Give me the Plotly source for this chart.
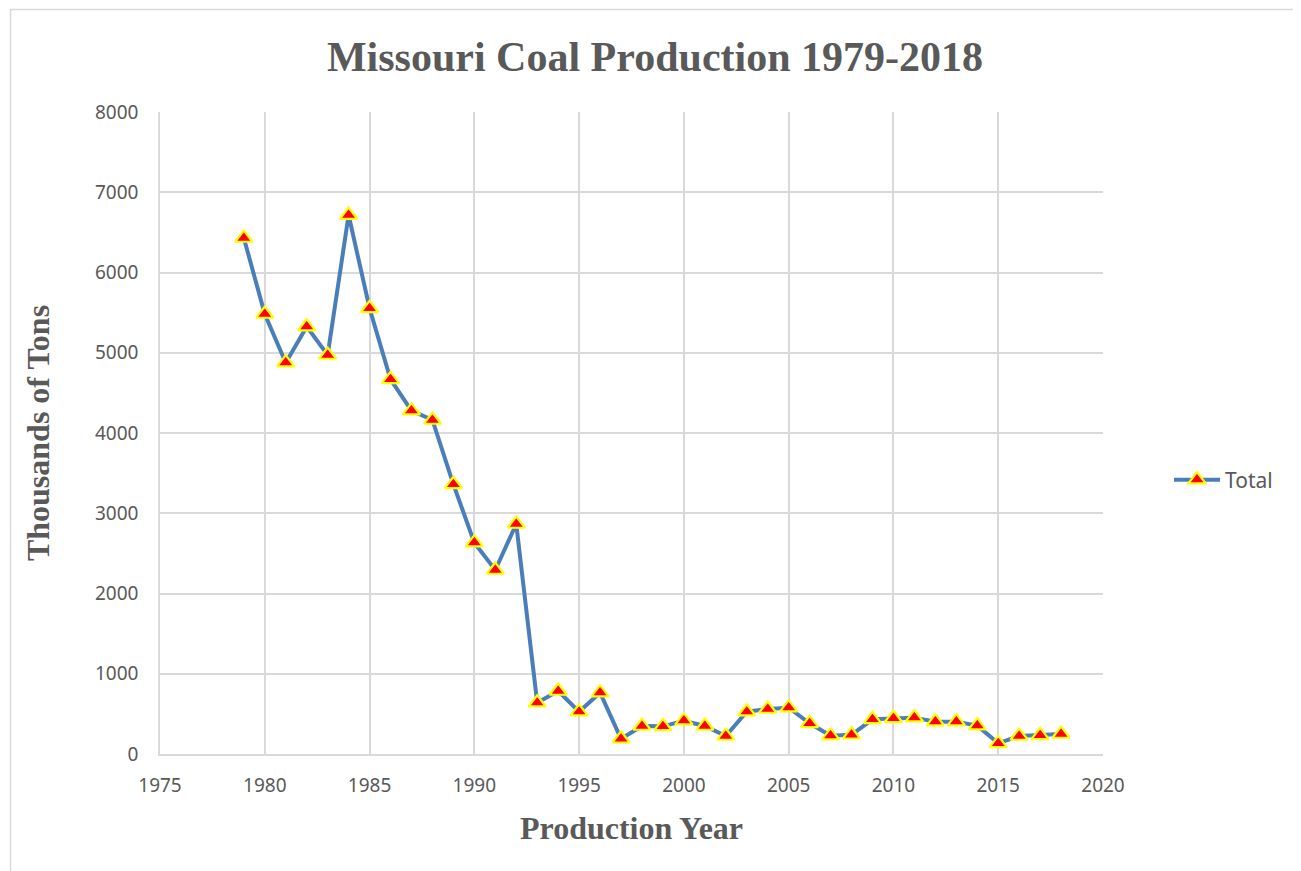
import plotly.graph_objects as go

years = list(range(1979, 2019))
total = [6430, 5483, 4876, 5325, 4972, 6716, 5554, 4669, 4278, 4162,
         3361, 2633, 2293, 2866, 639, 785, 527, 764, 190, 349,
         345, 415, 349, 224, 527, 561, 577, 382, 228, 240,
         432, 445, 453, 403, 403, 353, 133, 224, 233, 249]

x_ticks = [1975, 1980, 1985, 1990, 1995, 2000, 2005, 2010, 2015, 2020]
y_ticks = [0, 1000, 2000, 3000, 4000, 5000, 6000, 7000, 8000]

OFF = 8  # page body margin
W, H = 1301 - OFF, 871 - OFF
L, T = 160 - OFF, 112 - OFF
pw, ph = 943, 642
R, B = W - L - pw, H - T - ph

def px_x(p):  # reference pixel x -> paper x
    return (p - 160) / pw

def px_y(p):  # reference pixel y -> paper y
    return (754 - p) / ph

fig = go.Figure()
fig.add_trace(go.Scatter(
    x=years, y=total, name="Total", mode="lines+markers",
    line=dict(color="#4A7EBB", width=4),
    marker=dict(symbol="triangle-up", size=15, color="#FF0000",
                line=dict(color="#FFFF00", width=2.2)),
))

serif = "Times New Roman, Liberation Serif, serif"
sans = "Noto Sans, Liberation Sans, sans-serif"
tickfont = dict(family=sans, size=19, color="#595959")
fig.update_layout(
    width=W, height=H,
    margin=dict(l=L, r=R, t=T, b=B),
    paper_bgcolor="white", plot_bgcolor="white",
    title=dict(text="<b>Missouri Coal Production 1979-2018</b>",
               font=dict(family=serif, size=42, color="#595959"),
               x=(655 - OFF) / W, xref="container", xanchor="center",
               y=1 - (56 - OFF) / H, yref="container", yanchor="middle"),
    xaxis=dict(range=[1975, 2020], tickvals=x_ticks, showgrid=True, gridcolor="#D9D9D9",
               gridwidth=1.5, showline=True, linecolor="#D9D9D9", linewidth=1.5, mirror=False,
               zeroline=False, tickfont=tickfont, ticks="", ticklabelstandoff=13,
               title=dict(text="<b>Production Year</b>", standoff=20,
                          font=dict(family=serif, size=32, color="#595959"))),
    yaxis=dict(range=[0, 8000], tickvals=y_ticks, showgrid=True, gridcolor="#D9D9D9",
               gridwidth=1.5, showline=True, linecolor="#D9D9D9", linewidth=1.5,
               zeroline=False, tickfont=tickfont, ticks="", ticklabelstandoff=16,
               title=dict(text="<b>Thousands of Tons</b>", standoff=36,
                          font=dict(family=serif, size=32, color="#595959"))),
    legend=dict(x=px_x(1169), y=px_y(480), xanchor="left", yanchor="middle",
                itemwidth=46,
                font=dict(family=sans, size=21, color="#595959"),
                bgcolor="rgba(0,0,0,0)"),
    showlegend=True,
    shapes=[dict(type="rect", xref="paper", yref="paper",
                 x0=px_x(10.5), x1=px_x(1300), y0=px_y(890), y1=px_y(9.5),
                 line=dict(color="#D9D9D9", width=1.5), layer="below")],
)

fig.write_html("out.html")
